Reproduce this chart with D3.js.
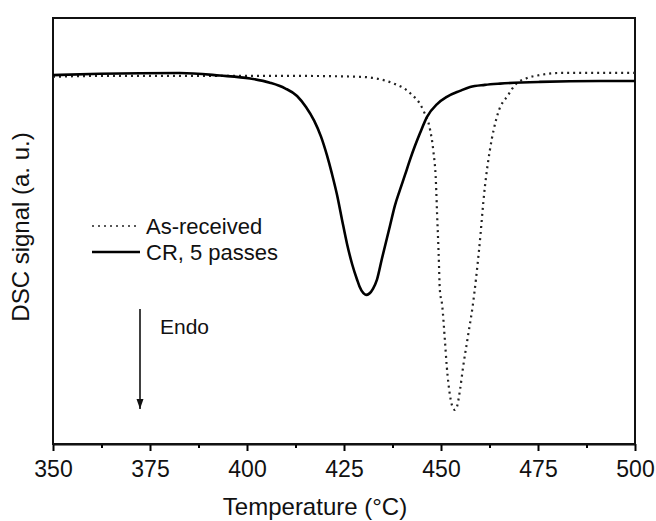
<!DOCTYPE html>
<html>
<head>
<meta charset="utf-8">
<script src="https://cdn.jsdelivr.net/npm/d3@7"></script>
<style>
  body { margin: 0; background: #fff; }
  svg { font-family: 'Liberation Sans', Arial, sans-serif; }
</style>
</head>
<body>
<svg id="chart" width="656" height="521"></svg>
<script>
// CR, 5 passes (solid)
const crTemp = [350, 362.1, 382.7, 393, 400.8, 405.9, 409.8, 412.9, 415.2, 417.3, 419.1, 420.6, 421.9, 423.2, 424.5, 425.8, 427.1, 428.4, 429.0, 430.0, 430.7, 431.5, 432.5, 433.5, 434.8, 436.9, 438.1, 439.4, 440.7, 442, 443.3, 444.6, 446.4, 449, 451.5, 454.9, 457.5, 461.3, 465.2, 475.5, 491, 500];
const crSignal = [86.6, 86.9, 87.1, 86.5, 85.8, 84.8, 83.5, 81.7, 79.1, 75.9, 72.1, 67.8, 63.4, 58.5, 52.6, 46.9, 42.2, 38.5, 37.0, 35.4, 35.0, 35.3, 36.5, 38.6, 43.6, 51.4, 55.9, 59.6, 63.1, 66.7, 70.0, 73.0, 76.8, 79.8, 81.5, 82.9, 83.8, 84.3, 84.6, 85.0, 85.2, 85.2];

// As-received (dotted)
const arTemp = [350, 362, 413.7, 429.1, 437.6, 442, 445.4, 447.2, 448, 448.7, 449, 449.4, 449.7, 450.3, 451, 451.5, 452.3, 452.8, 453.6, 454.1, 454.9, 455.7, 457, 458.2, 459.8, 461.3, 462.6, 464.7, 467.3, 469.1, 472.2, 475.5, 480.7, 500];
const arSignal = [86.2, 86.4, 86.4, 86.2, 84.7, 82.4, 78.4, 73.7, 69.0, 61.3, 53.8, 44.5, 36.2, 32.6, 24.4, 18.1, 11.5, 9.2, 8.0, 8.7, 12.7, 18.1, 25.6, 32.6, 45.5, 60.3, 69.0, 77.7, 81.9, 84.3, 85.9, 86.6, 87.1, 87.1];

const xTicks = [350, 375, 400, 425, 450, 475, 500];
const xMinorTicks = [362.5, 387.5, 412.5, 437.5, 462.5, 487.5];

const svg = d3.select('#chart');
const margins = { top: 18, right: 21, bottom: 77, left: 53 };
const width = 656 - margins.left - margins.right;
const height = 521 - margins.top - margins.bottom;

const g = svg.append('g').attr('transform', 'translate(' + margins.left + ',' + margins.top + ')');

const x = d3.scaleLinear().domain([350, 500]).range([0, width]);
const y = d3.scaleLinear().domain([0, 100]).range([height, 0]);

// minor ticks
g.append('g')
  .attr('transform', 'translate(0,' + height + ')')
  .call(d3.axisBottom(x).tickValues(xMinorTicks).tickSize(4).tickFormat(''))
  .call(a => a.select('.domain').remove())
  .selectAll('line').attr('stroke-width', 2);

const xAxis = g.append('g')
  .attr('transform', 'translate(0,' + height + ')')
  .call(d3.axisBottom(x).tickValues(xTicks).tickSize(7).tickSizeOuter(0).tickPadding(10).tickFormat(d3.format('d')));
xAxis.selectAll('line').attr('stroke-width', 2);
xAxis.select('.domain').attr('stroke-width', 2);
xAxis.selectAll('text').attr('font-size', 23).attr('fill', '#111').attr('font-family', "'Liberation Sans', Arial, sans-serif");

// frame
g.append('rect')
  .attr('width', width).attr('height', height)
  .attr('fill', 'none').attr('stroke', '#111').attr('stroke-width', 2);

const line = d3.line().x(d => x(d[0])).y(d => y(d[1])).curve(d3.curveMonotoneX);

g.append('path')
  .datum(arTemp.map((t, i) => [t, arSignal[i]]))
  .attr('d', line)
  .attr('fill', 'none')
  .attr('stroke', '#222')
  .attr('stroke-width', 2.2)
  .attr('stroke-dasharray', '2,4');

g.append('path')
  .datum(crTemp.map((t, i) => [t, crSignal[i]]))
  .attr('d', line)
  .attr('fill', 'none')
  .attr('stroke', '#000')
  .attr('stroke-width', 2.6);

// legend
const legend = svg.append('g');
legend.append('line').attr('x1', 92).attr('x2', 140).attr('y1', 226).attr('y2', 226)
  .attr('stroke', '#222').attr('stroke-width', 1.6).attr('stroke-dasharray', '2,4');
legend.append('line').attr('x1', 92).attr('x2', 140).attr('y1', 252).attr('y2', 252)
  .attr('stroke', '#000').attr('stroke-width', 2.6);
legend.append('text').attr('x', 146).attr('y', 234).attr('font-size', 22).attr('fill', '#111').text('As-received');
legend.append('text').attr('x', 146).attr('y', 260).attr('font-size', 22).attr('fill', '#111').text('CR, 5 passes');

// endo arrow
svg.append('defs').append('marker')
  .attr('id', 'arrow').attr('viewBox', '0 0 10 10').attr('refX', 10).attr('refY', 5)
  .attr('markerWidth', 10).attr('markerHeight', 10).attr('markerUnits', 'userSpaceOnUse')
  .attr('orient', 'auto')
  .append('path').attr('d', 'M0,1.5 L10,5 L0,8.5 Z').attr('fill', '#111');
svg.append('line').attr('x1', 140).attr('x2', 140).attr('y1', 309).attr('y2', 409)
  .attr('stroke', '#111').attr('stroke-width', 1.6).attr('marker-end', 'url(#arrow)');
svg.append('text').attr('x', 160).attr('y', 334).attr('font-size', 21).attr('fill', '#111').text('Endo');

// axis titles
svg.append('text')
  .attr('x', 315).attr('y', 515)
  .attr('text-anchor', 'middle').attr('font-size', 24).attr('fill', '#111')
  .text('Temperature (°C)');
svg.append('text')
  .attr('transform', 'translate(29,227) rotate(-90)')
  .attr('text-anchor', 'middle').attr('font-size', 24).attr('fill', '#111')
  .text('DSC signal (a. u.)');
</script>
</body>
</html>
